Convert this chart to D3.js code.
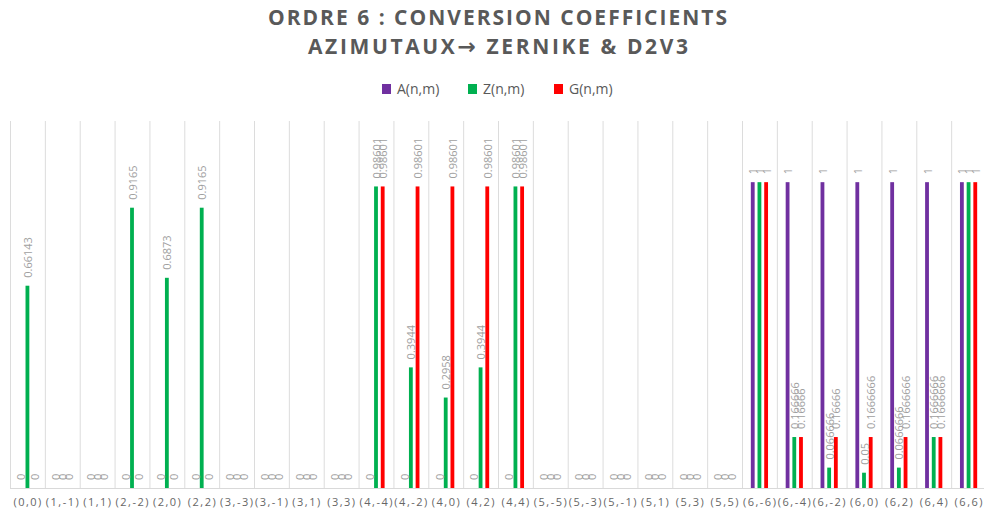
<!DOCTYPE html>
<html>
<head>
<meta charset="utf-8">
<script src="https://cdn.jsdelivr.net/npm/d3@7"></script>
<style>
  html, body { margin: 0; padding: 0; background: #fff; }
  svg { display: block; }
</style>
</head>
<body>
<svg id="chart" width="984" height="513"></svg>
<script>
const categories = ["(0,0)","(1,-1)","(1,1)","(2,-2)","(2,0)","(2,2)","(3,-3)","(3,-1)","(3,1)","(3,3)",
  "(4,-4)","(4,-2)","(4,0)","(4,2)","(4,4)","(5,-5)","(5,-3)","(5,-1)","(5,1)","(5,3)","(5,5)",
  "(6,-6)","(6,-4)","(6,-2)","(6,0)","(6,2)","(6,4)","(6,6)"];
const seriesNames = ["A(n,m)", "Z(n,m)", "G(n,m)"];
const seriesColors = ["#7030A0", "#00B050", "#FF0000"];
const aValues = [0,0,0,0,0,0,0,0,0,0, 0,0,0,0,0, 0,0,0,0,0,0, 1,1,1,1,1,1,1];
const zValues = [0.66143,0,0,0.9165,0.6873,0.9165,0,0,0,0,
  0.98601,0.3944,0.2958,0.3944,0.98601, 0,0,0,0,0,0,
  1,0.166666,0.066666,0.05,0.0666666,0.1666666,1];
const gValues = [0,0,0,0,0,0,0,0,0,0,
  0.98601,0.98601,0.98601,0.98601,0.98601, 0,0,0,0,0,0,
  1,0.16666,0.16666,0.1666666,0.1666666,0.1666666,1];
const yTicks = [0, 0.2, 0.4, 0.6, 0.8, 1, 1.2];

const titleLine1 = "ORDRE 6 : CONVERSION COEFFICIENTS";
const titleLine2Parts = ["AZIMUTAUX", "\u2192", " ZERNIKE & D2V3"];

const svg = d3.select("#chart");
const W = 984, H = 513;
const plot = { left: 10, right: 986, top: 121, bottom: 488 };

const allSeries = [aValues, zValues, gValues];
const data = categories.map((c, i) => ({
  cat: c,
  vals: seriesNames.map((s, k) => ({ series: s, k, value: allSeries[k][i] }))
}));

const x0 = d3.scaleBand().domain(categories).range([plot.left, plot.right]).padding(0);
const x1 = d3.scaleBand().domain(seriesNames).range([-8.6, 8.6]).paddingInner(0.43).paddingOuter(0);
const y = d3.scaleLinear().domain([0, d3.max(yTicks)]).range([plot.bottom, plot.top]);

// Vertical gridlines at category boundaries
svg.append("g").selectAll("line")
  .data(categories)
  .join("line")
  .attr("x1", d => x0(d) + 0.5)
  .attr("x2", d => x0(d) + 0.5)
  .attr("y1", plot.top)
  .attr("y2", plot.bottom)
  .attr("stroke", "#dcdcdc")
  .attr("stroke-width", 1);

// Bars
const groups = svg.append("g").selectAll("g")
  .data(data)
  .join("g")
  .attr("transform", d => `translate(${x0(d.cat) + x0.bandwidth() / 2},0)`);

groups.selectAll("rect")
  .data(d => d.vals)
  .join("rect")
  .attr("x", d => x1(d.series))
  .attr("width", x1.bandwidth())
  .attr("y", d => y(d.value))
  .attr("height", d => y(0) - y(d.value))
  .attr("fill", d => seriesColors[d.k]);

// Data labels
groups.selectAll("text")
  .data(d => d.vals)
  .join("text")
  .attr("transform", d => `translate(${x1(d.series) + x1.bandwidth() / 2},${y(d.value) - 8}) rotate(-90)`)
  .attr("text-anchor", "start")
  .attr("dominant-baseline", "central")
  .attr("font-family", "'Open Sans', sans-serif")
  .attr("font-size", 11)
  .attr("fill", "#a0a0a0")
  .text(d => String(d.value));

// X axis line
svg.append("line")
  .attr("x1", plot.left).attr("x2", W)
  .attr("y1", plot.bottom + 0.5).attr("y2", plot.bottom + 0.5)
  .attr("stroke", "#d9d9d9").attr("stroke-width", 1);

// Category labels
svg.append("g").selectAll("text")
  .data(categories)
  .join("text")
  .attr("x", d => x0(d) + x0.bandwidth() / 2 + 0.75)
  .attr("y", 506)
  .attr("text-anchor", "middle")
  .attr("font-family", "'Open Sans', sans-serif")
  .attr("font-size", 11)
  .attr("letter-spacing", "1.5px")
  .attr("fill", "#666")
  .text(d => d);

// Title
const titleG = svg.append("g")
  .attr("font-family", "'Open Sans', sans-serif")
  .attr("font-weight", "bold")
  .attr("font-size", 21)
  .attr("fill", "#595959");
titleG.append("text")
  .attr("x", 268).attr("y", 25)
  .attr("textLength", 459).attr("lengthAdjust", "spacing")
  .text(titleLine1);
const t2 = titleG.append("text")
  .attr("x", 308).attr("y", 54)
  .attr("textLength", 380).attr("lengthAdjust", "spacing");
t2.append("tspan").text(titleLine2Parts[0]);
t2.append("tspan")
  .attr("font-family", "'DejaVu Sans', sans-serif")
  .attr("font-weight", "bold")
  .attr("font-size", 22)
  .text(titleLine2Parts[1]);
t2.append("tspan").text(titleLine2Parts[2]);

// Legend
const legendX = [382, 468, 554];
const legend = svg.append("g").selectAll("g")
  .data(seriesNames)
  .join("g")
  .attr("transform", (d, i) => `translate(${legendX[i]},84)`);
legend.append("rect")
  .attr("width", 9).attr("height", 10)
  .attr("fill", (d, i) => seriesColors[i]);
legend.append("text")
  .attr("x", 15).attr("y", 10)
  .attr("font-family", "'Open Sans', sans-serif")
  .attr("font-size", 14)
  .attr("fill", "#595959")
  .text(d => d);
</script>
</body>
</html>
